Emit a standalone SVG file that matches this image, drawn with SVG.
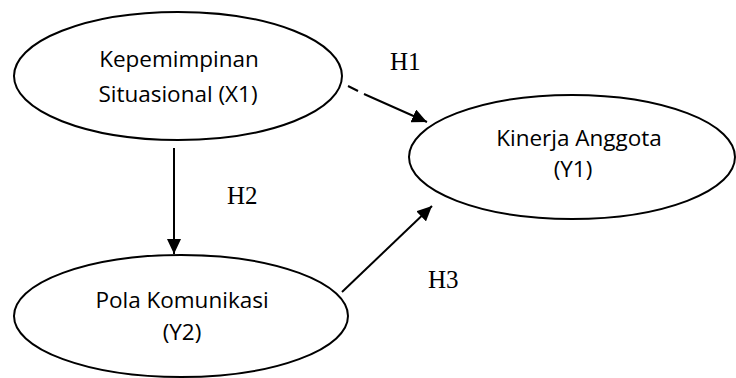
<svg xmlns="http://www.w3.org/2000/svg" width="736" height="378" viewBox="0 0 736 378">
<style>
.node ellipse{fill:#fff;stroke:#000;stroke-width:2}
.lbl{font-family:"Open Sans","Noto Sans",sans-serif;font-size:22.5px;fill:#000;text-anchor:middle}
.h{font-family:"Liberation Serif","Times New Roman",serif;font-size:25px;fill:#000}
.edge{stroke:#000;stroke-width:2;fill:none}
</style>
<defs>
<marker id="arr" markerUnits="userSpaceOnUse" markerWidth="16" markerHeight="14" refX="15" refY="7" orient="auto">
<path d="M0,0 L15,7 L0,14 Z" fill="#000"/>
</marker>
</defs>
<rect width="736" height="378" fill="#fff"/>
<g id="connectors">
<line class="edge" x1="348" y1="86" x2="358" y2="91"/>
<line class="edge" x1="364" y1="94" x2="427" y2="122" marker-end="url(#arr)"/>
<line class="edge" x1="174" y1="148" x2="174" y2="254" marker-end="url(#arr)"/>
<line class="edge" x1="342" y1="292" x2="432" y2="206" marker-end="url(#arr)"/>
</g>
<g id="x1" class="node">
<ellipse cx="178" cy="76" rx="164" ry="64"/>
<text class="lbl" x="179" y="67">Kepemimpinan</text>
<text class="lbl" x="178" y="102">Situasional (X1)</text>
</g>
<g id="y1" class="node">
<ellipse cx="572" cy="157" rx="163" ry="62"/>
<text class="lbl" x="579" y="146">Kinerja Anggota</text>
<text class="lbl" x="573" y="177">(Y1)</text>
</g>
<g id="y2" class="node">
<ellipse cx="181" cy="316" rx="167" ry="61"/>
<text class="lbl" x="182" y="308">Pola Komunikasi</text>
<text class="lbl" x="182" y="340">(Y2)</text>
</g>
<g id="labels">
<text class="h" x="390" y="70">H1</text>
<text class="h" x="227" y="204">H2</text>
<text class="h" x="428" y="288">H3</text>
</g>
</svg>
